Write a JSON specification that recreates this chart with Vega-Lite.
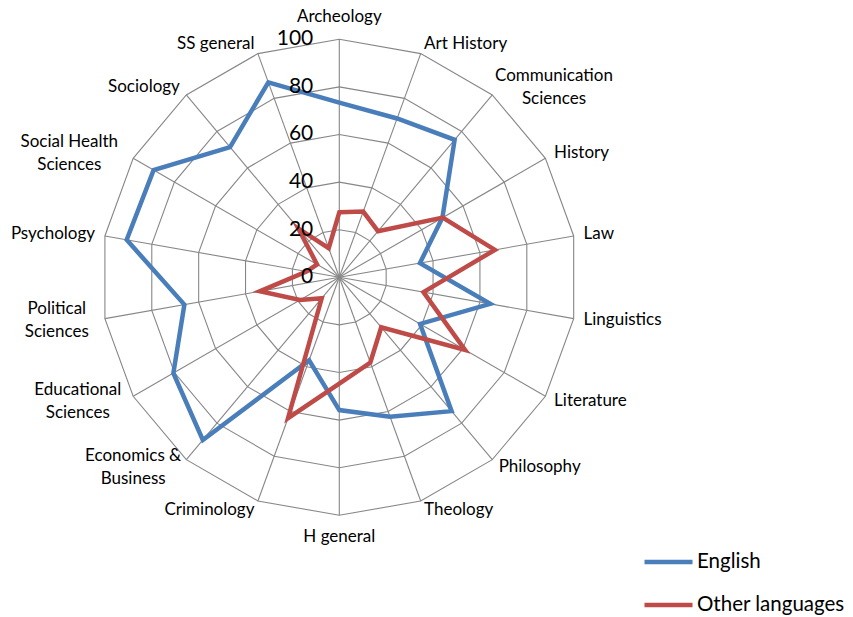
{
  "$schema": "https://vega.github.io/schema/vega-lite/v6.json",
  "width": 853,
  "height": 617,
  "autosize": "none",
  "padding": 0,
  "background": "white",
  "config": {"view": {"stroke": null}, "font": "Lato"},
  "datasets": {
    "scores": [
      {"i": 0, "cat": "Archeology", "English": 73.4, "Other languages": 27.3},
      {"i": 1, "cat": "Art History", "English": 71, "Other languages": 29.4},
      {"i": 2, "cat": "Communication\nSciences", "English": 75.4, "Other languages": 25.3},
      {"i": 3, "cat": "History", "English": 50, "Other languages": 50.2},
      {"i": 4, "cat": "Law", "English": 34.4, "Other languages": 66.4},
      {"i": 5, "cat": "Linguistics", "English": 64.4, "Other languages": 35.9},
      {"i": 6, "cat": "Literature", "English": 39.2, "Other languages": 61},
      {"i": 7, "cat": "Philosophy", "English": 73.4, "Other languages": 27.4},
      {"i": 8, "cat": "Theology", "English": 62.3, "Other languages": 38.1},
      {"i": 9, "cat": "H general", "English": 55.8, "Other languages": 44.7},
      {"i": 10, "cat": "Criminology", "English": 37.1, "Other languages": 63},
      {"i": 11, "cat": "Economics &\nBusiness", "English": 89.2, "Other languages": 11.5},
      {"i": 12, "cat": "Educational\nSciences", "English": 80.5, "Other languages": 19.1},
      {"i": 13, "cat": "Political\nSciences", "English": 66.1, "Other languages": 33.9},
      {"i": 14, "cat": "Psychology", "English": 90.7, "Other languages": 14},
      {"i": 15, "cat": "Social Health\nSciences", "English": 90.1, "Other languages": 10.8},
      {"i": 16, "cat": "Sociology", "English": 71.4, "Other languages": 26.8},
      {"i": 17, "cat": "SS general", "English": 87.2, "Other languages": 13}
    ],
    "rings": [
      {"level": 20, "i": [0,1,2,3,4,5,6,7,8,9,10,11,12,13,14,15,16,17]},
      {"level": 40, "i": [0,1,2,3,4,5,6,7,8,9,10,11,12,13,14,15,16,17]},
      {"level": 60, "i": [0,1,2,3,4,5,6,7,8,9,10,11,12,13,14,15,16,17]},
      {"level": 80, "i": [0,1,2,3,4,5,6,7,8,9,10,11,12,13,14,15,16,17]},
      {"level": 100, "i": [0,1,2,3,4,5,6,7,8,9,10,11,12,13,14,15,16,17]}
    ],
    "ticks": [
      {"level": 0}, {"level": 20}, {"level": 40}, {"level": 60}, {"level": 80}, {"level": 100}
    ]
  },
  "layer": [
    {
      "data": {"name": "rings"},
      "transform": [
        {"flatten": ["i"]},
        {"calculate": "datum.i*PI/9", "as": "a"},
        {"calculate": "datum.level*sin(datum.a)", "as": "gx"},
        {"calculate": "datum.level*cos(datum.a)", "as": "gy"}
      ],
      "mark": {"type": "line", "interpolate": "linear-closed", "stroke": "#878787", "strokeWidth": 1.1},
      "encoding": {
        "x": {"field": "gx", "type": "quantitative", "scale": {"domain": [-142.56, 215.84], "nice": false, "zero": false}, "axis": null},
        "y": {"field": "gy", "type": "quantitative", "scale": {"domain": [-142.73, 116.51], "nice": false, "zero": false}, "axis": null},
        "detail": {"field": "level", "type": "nominal"},
        "order": {"field": "i", "type": "quantitative"}
      }
    },
    {
      "data": {"name": "scores"},
      "transform": [
        {"calculate": "datum.i*PI/9", "as": "a"},
        {"calculate": "100*sin(datum.a)", "as": "sx"},
        {"calculate": "100*cos(datum.a)", "as": "sy"},
        {"calculate": "0", "as": "ox"}
      ],
      "mark": {"type": "rule", "stroke": "#878787", "strokeWidth": 1.1},
      "encoding": {
        "x": {"field": "ox", "type": "quantitative", "scale": {"domain": [-142.56, 215.84], "nice": false, "zero": false}, "axis": null},
        "y": {"field": "ox", "type": "quantitative", "scale": {"domain": [-142.73, 116.51], "nice": false, "zero": false}, "axis": null},
        "x2": {"field": "sx"},
        "y2": {"field": "sy"}
      }
    },
    {
      "data": {"name": "scores"},
      "transform": [
        {"fold": ["English", "Other languages"], "as": ["lang", "value"]},
        {"calculate": "datum.i*PI/9", "as": "a"},
        {"calculate": "datum.value*sin(datum.a)", "as": "px"},
        {"calculate": "datum.value*cos(datum.a)", "as": "py"}
      ],
      "mark": {"type": "line", "interpolate": "linear-closed", "strokeWidth": 4.5, "strokeJoin": "miter"},
      "encoding": {
        "x": {"field": "px", "type": "quantitative", "scale": {"domain": [-142.56, 215.84], "nice": false, "zero": false}, "axis": null},
        "y": {"field": "py", "type": "quantitative", "scale": {"domain": [-142.73, 116.51], "nice": false, "zero": false}, "axis": null},
        "color": {
          "field": "lang", "type": "nominal",
          "scale": {"domain": ["English", "Other languages"], "range": ["#4A7EBB", "#BE4B48"]},
          "legend": {
            "title": null, "orient": "none", "legendX": 642, "legendY": 552, "padding": 0,
            "labelFont": "Lato", "labelFontSize": 20.5, "labelColor": "#000000",
            "symbolType": "stroke", "symbolSize": 2304, "symbolStrokeWidth": 4.5,
            "clipHeight": 20, "rowPadding": 22, "labelOffset": 2
          }
        },
        "order": {"field": "i", "type": "quantitative"}
      }
    },
    {
      "data": {"name": "ticks"},
      "transform": [{"calculate": "0", "as": "ox"}],
      "mark": {"type": "text", "align": "right", "baseline": "middle", "dx": -26, "fontSize": 21, "font": "Lato", "color": "#000000"},
      "encoding": {
        "x": {"field": "ox", "type": "quantitative", "scale": {"domain": [-142.56, 215.84], "nice": false, "zero": false}, "axis": null},
        "y": {"field": "level", "type": "quantitative", "scale": {"domain": [-142.73, 116.51], "nice": false, "zero": false}, "axis": null},
        "text": {"field": "level", "type": "quantitative"}
      }
    },
    {
      "data": {"name": "scores"},
      "transform": [
        {"filter": "datum.i == 0 || datum.i == 9"},
        {"calculate": "datum.i*PI/9", "as": "a"},
        {"calculate": "109.2*sin(datum.a)", "as": "lx"},
        {"calculate": "109.2*cos(datum.a)", "as": "ly"}
      ],
      "mark": {"type": "text", "align": "center", "baseline": "middle", "fontSize": 17, "font": "Lato", "color": "#000000"},
      "encoding": {
        "x": {"field": "lx", "type": "quantitative", "scale": {"domain": [-142.56, 215.84], "nice": false, "zero": false}, "axis": null},
        "y": {"field": "ly", "type": "quantitative", "scale": {"domain": [-142.73, 116.51], "nice": false, "zero": false}, "axis": null},
        "text": {"field": "cat", "type": "nominal"}
      }
    },
    {
      "data": {"name": "scores"},
      "transform": [
        {"filter": "datum.i > 0 && datum.i < 9 && indexof(datum.cat, '\\n') < 0"},
        {"calculate": "datum.i*PI/9", "as": "a"},
        {"calculate": "104.2*sin(datum.a)", "as": "lx"},
        {"calculate": "104.2*cos(datum.a)", "as": "ly"}
      ],
      "mark": {"type": "text", "align": "left", "baseline": "middle", "fontSize": 17, "font": "Lato", "color": "#000000"},
      "encoding": {
        "x": {"field": "lx", "type": "quantitative", "scale": {"domain": [-142.56, 215.84], "nice": false, "zero": false}, "axis": null},
        "y": {"field": "ly", "type": "quantitative", "scale": {"domain": [-142.73, 116.51], "nice": false, "zero": false}, "axis": null},
        "text": {"field": "cat", "type": "nominal"}
      }
    },
    {
      "data": {"name": "scores"},
      "transform": [
        {"filter": "datum.i > 9 && indexof(datum.cat, '\\n') < 0"},
        {"calculate": "datum.i*PI/9", "as": "a"},
        {"calculate": "104.2*sin(datum.a)", "as": "lx"},
        {"calculate": "104.2*cos(datum.a)", "as": "ly"}
      ],
      "mark": {"type": "text", "align": "right", "baseline": "middle", "fontSize": 17, "font": "Lato", "color": "#000000"},
      "encoding": {
        "x": {"field": "lx", "type": "quantitative", "scale": {"domain": [-142.56, 215.84], "nice": false, "zero": false}, "axis": null},
        "y": {"field": "ly", "type": "quantitative", "scale": {"domain": [-142.73, 116.51], "nice": false, "zero": false}, "axis": null},
        "text": {"field": "cat", "type": "nominal"}
      }
    },
    {
      "data": {"name": "scores"},
      "transform": [
        {"filter": "indexof(datum.cat, '\\n') >= 0"},
        {"calculate": "datum.i*PI/9", "as": "a"},
        {"calculate": "max(length(split(datum.cat, '\\n')[0]), length(split(datum.cat, '\\n')[1]))", "as": "ml"},
        {"calculate": "104.2*sin(datum.a) + (sin(datum.a) > 0 ? 1 : -1) * datum.ml * 4.25 / 2.38", "as": "lx"},
        {"calculate": "104.2*cos(datum.a)", "as": "ly"}
      ],
      "mark": {"type": "text", "align": "center", "baseline": "middle", "dy": -11.5, "fontSize": 17, "font": "Lato", "color": "#000000", "lineBreak": "\n", "lineHeight": 23},
      "encoding": {
        "x": {"field": "lx", "type": "quantitative", "scale": {"domain": [-142.56, 215.84], "nice": false, "zero": false}, "axis": null},
        "y": {"field": "ly", "type": "quantitative", "scale": {"domain": [-142.73, 116.51], "nice": false, "zero": false}, "axis": null},
        "text": {"field": "cat", "type": "nominal"}
      }
    }
  ]
}
